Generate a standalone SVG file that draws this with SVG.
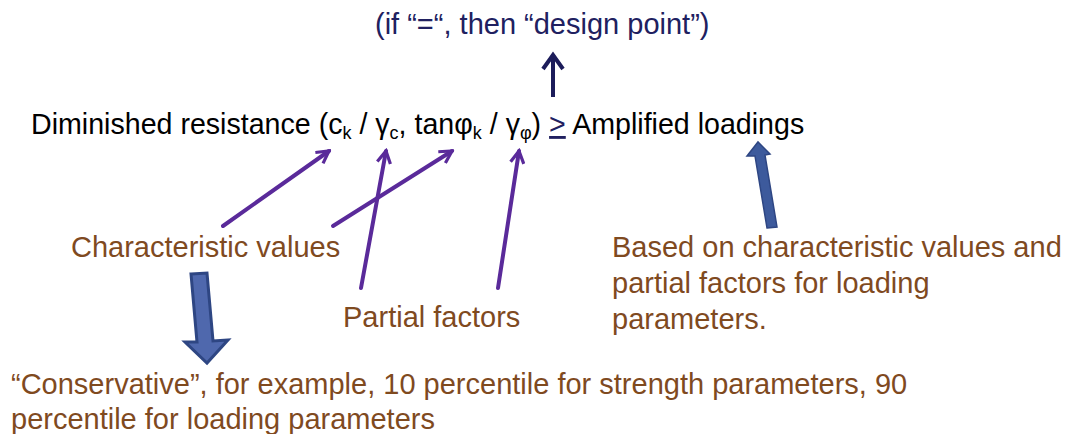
<svg xmlns="http://www.w3.org/2000/svg" width="1066" height="434" viewBox="0 0 1066 434">
<style>
text{font-family:"Liberation Sans",Arial,sans-serif;font-size:29px}
.navy{fill:#202060}
.blk{fill:#000;font-size:28.6px}
.brn{fill:#7f4a1f}
.sub{font-size:18px}
.pur{stroke:#5a2a9a;stroke-width:4;fill:none;stroke-linecap:round;stroke-linejoin:miter}
</style>
<defs>
<marker id="vh" viewBox="0 0 12 12" refX="10" refY="6" markerWidth="16" markerHeight="16" markerUnits="userSpaceOnUse" orient="auto">
<path d="M1,1 L10,6 L1,11" fill="none" stroke="#5a2a9a" stroke-width="2.4" stroke-linejoin="miter"/>
</marker>
</defs>
<rect width="1066" height="434" fill="#fff"/>
<g id="note-design-point"><text class="navy" x="375" y="34">(if “=“, then “design point”)</text></g>
<g id="main-equation"><text class="blk" x="31" y="134">Diminished resistance (c<tspan class="sub" dy="5">k</tspan><tspan dy="-5"> / γ</tspan><tspan class="sub" dy="5">c</tspan><tspan dy="-5">, tanφ</tspan><tspan class="sub" dy="5">k</tspan><tspan dy="-5"> / γ</tspan><tspan class="sub" dy="5">φ</tspan><tspan dy="-5">) </tspan><tspan class="navy" text-decoration="underline">&gt;</tspan> Amplified loadings</text></g>
<g id="characteristic-values"><text class="brn" x="71" y="257">Characteristic values</text></g>
<g id="partial-factors"><text class="brn" x="343" y="327">Partial factors</text></g>
<g id="loading-note"><text class="brn" x="612" y="257">Based on characteristic values and</text><text class="brn" x="612" y="293">partial factors for loading</text><text class="brn" x="612" y="329">parameters.</text></g>
<g id="conservative-note"><text class="brn" x="11" y="394">“Conservative”, for example, 10 percentile for strength parameters, 90</text><text class="brn" x="11" y="429">percentile for loading parameters</text></g>
<g id="connectors">
<line class="pur" x1="223" y1="226" x2="329" y2="151" marker-end="url(#vh)"/>
<line class="pur" x1="333" y1="226" x2="452" y2="151" marker-end="url(#vh)"/>
<line class="pur" x1="361" y1="288" x2="386" y2="151" marker-end="url(#vh)"/>
<line class="pur" x1="498" y1="288" x2="519" y2="151" marker-end="url(#vh)"/>
<g stroke="#1c1c5a" stroke-width="4" fill="none"><line x1="553" y1="97" x2="553" y2="55"/><polyline points="543,69 553,55 563,69"/></g>
<path d="M191,274 L207,273 L213,341 L228,340 L207,363 L185,342 L197,342 Z" fill="#4f68ad" stroke="#2e4683" stroke-width="3" stroke-linejoin="miter"/>
<path d="M767,228 L777,227 L765,155 L770,154 L758,142 L747,156 L755,156 Z" fill="#3d5a9c" stroke="#2e4683" stroke-width="1.5"/>
</g>
</svg>
